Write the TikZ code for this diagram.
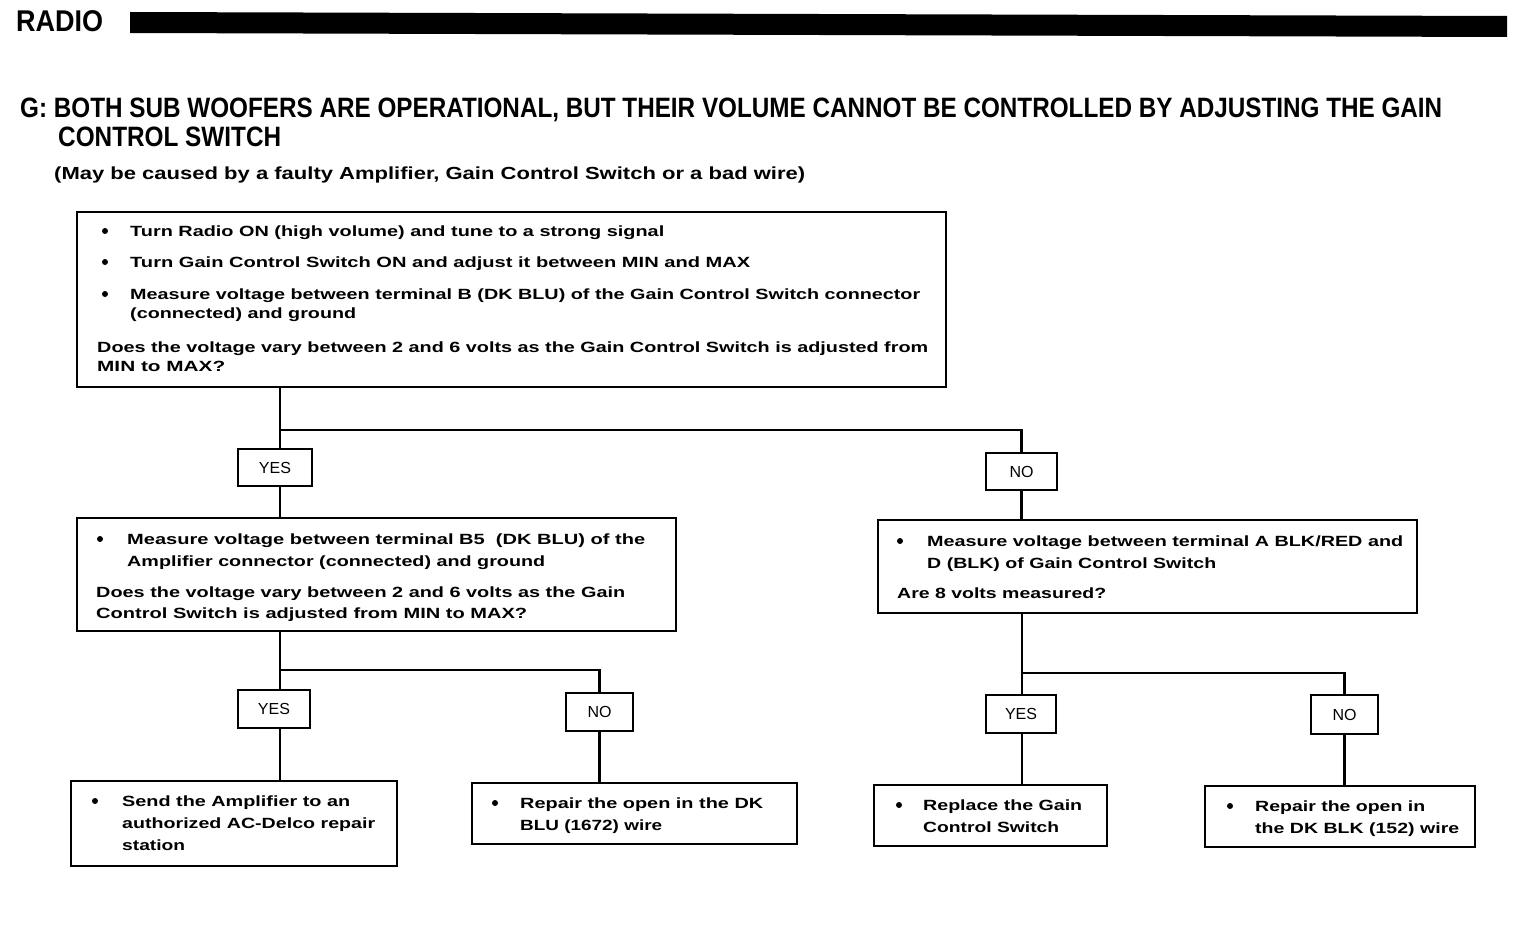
\documentclass[tikz,border=0pt]{standalone}
\usepackage{fontspec}
\setmainfont{Liberation Sans}
\usepackage{graphicx}
\usetikzlibrary{fit}
\newcommand{\hw}[2]{\resizebox{#1}{\height}{#2}}
\begin{document}
\begin{tikzpicture}[x=1pt,y=-1pt,
  box/.style={draw, line width=1.7pt, inner sep=0pt},
  lab/.style={draw, line width=1.7pt, inner sep=0pt},
  labtxt/.style={anchor=center, inner sep=0pt, font=\fontsize{16}{18}\selectfont},
  conn/.style={line width=2.8pt},
  txt/.style={anchor=base west, inner sep=0pt, font=\fontsize{14.8}{17}\selectfont\bfseries},
  dot/.style={circle, fill=black, inner sep=0pt, minimum size=6pt},
  ttl/.style={anchor=base west, inner sep=0pt, font=\fontsize{28}{30}\selectfont\bfseries}]
\useasboundingbox (0,0) rectangle (1520,928);

% header
\node[anchor=base west, inner sep=0pt, font=\fontsize{30}{32}\selectfont\bfseries] (radio) at (16,32) {\hw{87pt}{RADIO}};
\fill (130,12) -- (1507,16) -- (1507,37) -- (130,33) -- cycle;

% title
\node[ttl] (t1) at (20,118) {\hw{1422pt}{G: BOTH SUB WOOFERS ARE OPERATIONAL, BUT THEIR VOLUME CANNOT BE CONTROLLED BY ADJUSTING THE GAIN}};
\node[ttl] (t2) at (58,147) {\hw{223pt}{CONTROL SWITCH}};
\node[txt, font=\fontsize{17.5}{20}\selectfont\bfseries] (t3) at (54,180) {\hw{751pt}{(May be caused by a faulty Amplifier, Gain Control Switch or a bad wire)}};

% boxes
\node[box, fit={(77,212) (946,387)}] (b1) {};
\node[box, fit={(77,518) (676,631)}] (b2) {};
\node[box, fit={(878,520) (1417,613)}] (b3) {};
\node[box, fit={(71,781) (397,866)}] (b4) {};
\node[box, fit={(472,783) (797,844)}] (b5) {};
\node[box, fit={(874,785) (1107,846)}] (b6) {};
\node[box, fit={(1205,786) (1475,847)}] (b7) {};

% labels
\node[lab, fit={(238,449) (312,486)}] (y1) {};
\node[lab, fit={(986,453) (1057,490)}] (n1) {};
\node[lab, fit={(238,690) (310,728)}] (y2) {};
\node[lab, fit={(566,693) (633,731)}] (n2) {};
\node[lab, fit={(986,695) (1056,733)}] (y3) {};
\node[lab, fit={(1311,695) (1378,734)}] (n3) {};
\node[labtxt] (y1t) at (y1.center) {YES};
\node[labtxt] (n1t) at (n1.center) {NO};
\node[labtxt] (y2t) at (y2.center) {YES};
\node[labtxt] (n2t) at (n2.center) {NO};
\node[labtxt] (y3t) at (y3.center) {YES};
\node[labtxt] (n3t) at (n3.center) {NO};

% box 1 text
\node[dot] (d11) at (105,231) {};
\node[txt] (b1a) at (130,236) {\hw{534pt}{Turn Radio ON (high volume) and tune to a strong signal}};
\node[dot] (d12) at (105,262) {};
\node[txt] (b1b) at (130,267) {\hw{620pt}{Turn Gain Control Switch ON and adjust it between MIN and MAX}};
\node[dot] (d13) at (105,294) {};
\node[txt] (b1c) at (130,299) {\hw{790pt}{Measure voltage between terminal B (DK BLU) of the Gain Control Switch connector}};
\node[txt] (b1d) at (130,318) {\hw{226pt}{(connected) and ground}};
\node[txt] (b1e) at (97,352) {\hw{831pt}{Does the voltage vary between 2 and 6 volts as the Gain Control Switch is adjusted from}};
\node[txt] (b1f) at (97,371) {\hw{128pt}{MIN to MAX?}};

% box 2 text
\node[dot] (d21) at (100,539) {};
\node[txt] (b2a) at (127,544) {\hw{518pt}{Measure voltage between terminal B5\ \ (DK BLU) of the}};
\node[txt] (b2b) at (127,566) {\hw{418pt}{Amplifier connector (connected) and ground}};
\node[txt] (b2c) at (96,597) {\hw{529pt}{Does the voltage vary between 2 and 6 volts as the Gain}};
\node[txt] (b2d) at (96,618) {\hw{431pt}{Control Switch is adjusted from MIN to MAX?}};

% box 3 text
\node[dot] (d31) at (900,541) {};
\node[txt] (b3a) at (927,546) {\hw{476pt}{Measure voltage between terminal A BLK/RED and}};
\node[txt] (b3b) at (927,568) {\hw{289pt}{D (BLK) of Gain Control Switch}};
\node[txt] (b3c) at (897,598) {\hw{209pt}{Are 8 volts measured?}};

% box 4 text
\node[dot] (d41) at (95,801) {};
\node[txt] (b4a) at (122,806) {\hw{228pt}{Send the Amplifier to an}};
\node[txt] (b4b) at (122,828) {\hw{253pt}{authorized AC-Delco repair}};
\node[txt] (b4c) at (122,850) {\hw{63pt}{station}};

% box 5 text
\node[dot] (d51) at (495,803) {};
\node[txt] (b5a) at (520,808) {\hw{243pt}{Repair the open in the DK}};
\node[txt] (b5b) at (520,830) {\hw{142pt}{BLU (1672) wire}};

% box 6 text
\node[dot] (d61) at (899,805) {};
\node[txt] (b6a) at (923,810) {\hw{159pt}{Replace the Gain}};
\node[txt] (b6b) at (923,832) {\hw{136pt}{Control Switch}};

% box 7 text
\node[dot] (d71) at (1230,806) {};
\node[txt] (b7a) at (1255,811) {\hw{170pt}{Repair the open in}};
\node[txt] (b7b) at (1255,833) {\hw{204pt}{the DK BLK (152) wire}};

% junctions
\coordinate (j1) at (280,430);
\coordinate (j2) at (280,670);
\coordinate (j3) at (1022,673);

% connectors
\draw[conn] (b1.south -| j1) -- (j1) -| (n1.north);
\draw[conn] (j1) -- (y1.north -| j1);
\draw[conn] (y1.south -| j1) -- (b2.north -| j1);
\draw[conn] (n1.south) -- (n1.south |- b3.north);

\draw[conn] (b2.south -| j2) -- (j2) -| (n2.north);
\draw[conn] (j2) -- (y2.north -| j2);
\draw[conn] (y2.south -| j2) -- (b4.north -| j2);
\draw[conn] (n2.south) -- (n2.south |- b5.north);

\draw[conn] (b3.south -| j3) -- (j3) -| (n3.north);
\draw[conn] (j3) -- (y3.north -| j3);
\draw[conn] (y3.south -| j3) -- (b6.north -| j3);
\draw[conn] (n3.south) -- (n3.south |- b7.north);
\end{tikzpicture}
\end{document}
